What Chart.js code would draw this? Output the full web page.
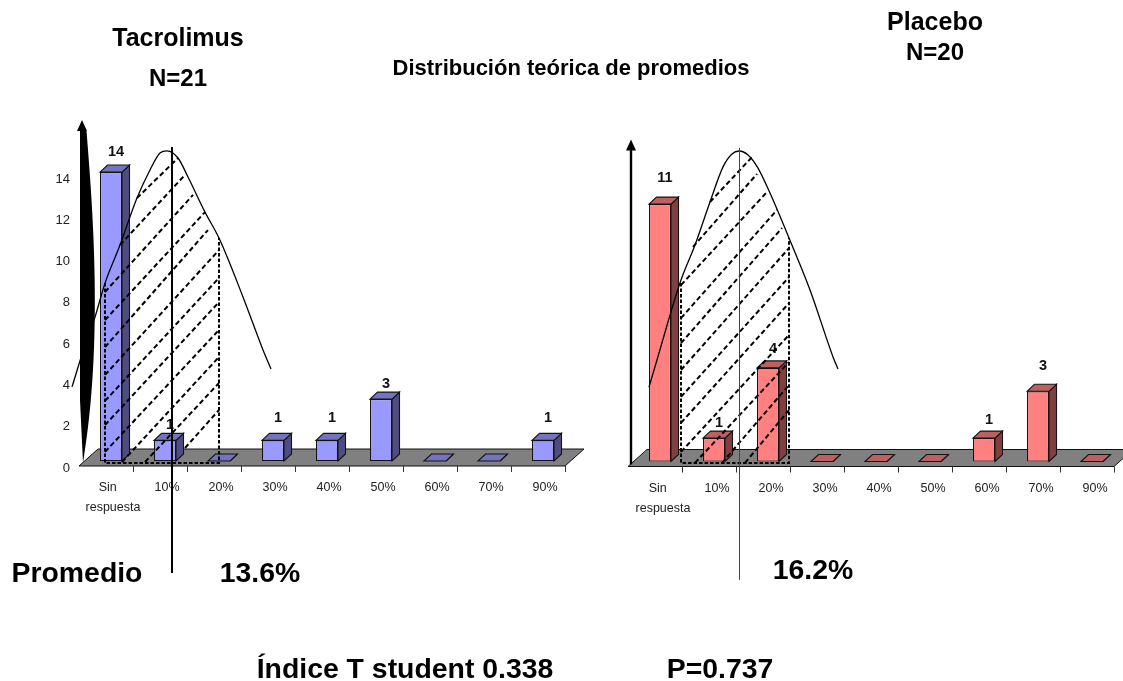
<!DOCTYPE html>
<html lang="es">
<head>
<meta charset="utf-8">
<title>Distribución teórica de promedios</title>
<script src="https://cdn.jsdelivr.net/npm/chart.js@4/dist/chart.umd.js"></script>
<style>
  html, body { margin: 0; padding: 0; background: #fff; }
  #stage { position: relative; width: 1123px; height: 681px; overflow: hidden; }
  canvas { position: absolute; left: 0; top: 0; }
  .cap { position: absolute; font-family: "Liberation Sans", Arial, sans-serif; font-weight: bold;
         color: #000; white-space: nowrap; transform: translate(-50%, -50%); line-height: 1; }
</style>
</head>
<body>
<div id="stage">
  <canvas id="tacrolimus" width="1123" height="681"></canvas>
  <canvas id="placebo" width="1123" height="681"></canvas>
  <div class="cap" style="left:178px;top:37px;font-size:25px">Tacrolimus</div>
  <div class="cap" style="left:178px;top:78px;font-size:24px">N=21</div>
  <div class="cap" style="left:935px;top:21px;font-size:25px">Placebo</div>
  <div class="cap" style="left:935px;top:52px;font-size:24px">N=20</div>
  <div class="cap" style="left:571px;top:68px;font-size:22px">Distribución teórica de promedios</div>
  <div class="cap" style="left:77px;top:572px;font-size:28.4px">Promedio</div>
  <div class="cap" style="left:260px;top:572px;font-size:28.4px">13.6%</div>
  <div class="cap" style="left:813px;top:569px;font-size:28.4px">16.2%</div>
  <div class="cap" style="left:405px;top:668px;font-size:28.4px">Índice T student 0.338</div>
  <div class="cap" style="left:720px;top:668px;font-size:28.4px">P=0.737</div>
</div>
<script>
// Response categories shared by both arms
const categories = [['Sin   ', 'respuesta'], '10%', '20%', '30%', '40%', '50%', '60%', '70%', '90%'];
const yTicks = [0, 2, 4, 6, 8, 10, 12, 14];

// Patients per category
const tacrolimusCounts = [14, 1, 0, 1, 1, 3, 0, 0, 1];
const placeboCounts = [11, 1, 4, 0, 0, 0, 1, 3, 0];

// Theoretical distribution of means, as [category position, height]
const tacrolimusCurve = [[-0.222,3.59],[0.019,5.62],[0.204,6.98],[0.389,8.62],[0.667,10.47],[0.981,12.74],
  [1.222,14.10],[1.407,14.92],[1.537,15.03],[1.741,14.68],[1.926,13.76],[2.241,12.06],[2.5,10.80],
  [2.944,7.95],[3.315,5.38],[3.463,4.46]];
const placeboCurve = [[0.296,3.18],[0.444,4.34],[0.870,7.63],[1.148,9.25],[1.426,11.09],[1.667,12.59],
  [1.833,13.14],[1.963,13.27],[2.130,13.10],[2.315,12.54],[2.537,11.47],[2.889,9.55],[3.278,7.33],
  [3.704,4.47],[3.796,3.95]];

// Dashed outline of the shaded area under each curve
const tacrolimusBand = [[0.389,8.62],[0.389,-0.10],[2.5,-0.10],[2.5,10.80]];
const placeboBand = [[0.889,7.63],[0.889,-0.06],[2.889,-0.06],[2.889,9.55]];

// Diagonal hatching, each entry [x1, y1, x2, y2]
const tacrolimusHatch = [[0.981,12.74,1.741,14.68],[0.667,10.47,1.87,13.86],[0.389,8.19,2.019,12.89],
  [0.389,6.83,2.241,12.06],[0.389,5.52,2.296,11.19],[0.389,4.17,2.5,10.22],[0.389,2.91,2.5,8.87],
  [0.389,1.74,2.5,7.70],[0.389,0.44,2.5,6.35],[0.704,-0.05,2.5,5.04],[1.13,-0.05,2.5,3.78],[1.87,0.63,2.5,2.47]];
const placeboHatch = [[1.426,11.09,2.204,13.01],[1.111,9.17,2.296,12.29],[0.889,7.54,2.463,11.47],
  [0.889,6.13,2.667,10.75],[0.889,5.06,2.759,9.98],[0.889,3.91,2.889,9.12],[0.889,2.76,2.889,7.88],
  [0.889,1.65,2.889,6.77],[0.889,0.41,2.889,5.41],[1.148,-0.06,2.889,4.25],[1.648,-0.06,2.889,3.27],
  [2.074,-0.06,2.889,2.20]];

// Mean marker: position and vertical extent
const tacrolimusMean = [1.63, 15.21, -5.43];
const placeboMean = [1.963, 13.4, -5.06];

const DEPTH_X = 7.5, DEPTH_Y = 7;

function box3d(ctx, el, top, side) {
  const { x, y, base, width } = el.getProps(['x', 'y', 'base', 'width'], true);
  const l = x - width / 2, r = x + width / 2;
  ctx.lineWidth = 1.1;
  ctx.strokeStyle = '#141414';
  ctx.beginPath();
  ctx.moveTo(r, y); ctx.lineTo(r + DEPTH_X, y - DEPTH_Y); ctx.lineTo(r + DEPTH_X, base - DEPTH_Y); ctx.lineTo(r, base);
  ctx.closePath(); ctx.fillStyle = side; ctx.fill(); ctx.stroke();
  ctx.beginPath();
  ctx.moveTo(l, y); ctx.lineTo(l + DEPTH_X, y - DEPTH_Y); ctx.lineTo(r + DEPTH_X, y - DEPTH_Y); ctx.lineTo(r, y);
  ctx.closePath(); ctx.fillStyle = top; ctx.fill(); ctx.stroke();
}

// Gray floor, axis ticks, value labels and the extruded faces behind the bars
function stagePlugin(cfg) {
  return {
    id: 'stage3d',
    beforeDatasetsDraw(chart) {
      const { ctx, chartArea: a, scales } = chart;
      const y0 = scales.y.getPixelForValue(0);
      const front = y0 + 5, back = y0 - 12, shift = 5;
      ctx.save();
      ctx.beginPath();
      ctx.moveTo(a.left - shift, front);
      ctx.lineTo(a.left - shift + 19, back);
      ctx.lineTo(a.right - shift + 19, back);
      ctx.lineTo(a.right - shift, front);
      ctx.closePath();
      ctx.fillStyle = '#808080';
      ctx.fill();
      ctx.strokeStyle = '#111';
      ctx.lineWidth = 1;
      ctx.stroke();
      categories.forEach((_, i) => {
        const tx = Math.round(scales.x.getPixelForValue(i) + 27 - shift) + 0.5;
        ctx.beginPath(); ctx.moveTo(tx, front); ctx.lineTo(tx, front + 6); ctx.strokeStyle = '#333'; ctx.stroke();
      });
      // value labels go under the bars so a low label can tuck behind its box
      ctx.fillStyle = '#111';
      ctx.font = 'bold 14.5px "Liberation Sans", Arial, sans-serif';
      ctx.textAlign = 'center';
      ctx.textBaseline = 'middle';
      chart.getDatasetMeta(0).data.forEach((el, i) => {
        const v = chart.data.datasets[0].data[i];
        if (v > 0) ctx.fillText(String(v), el.x + 5, el.y - DEPTH_Y - cfg.labelLift[i]);
      });
      chart.getDatasetMeta(0).data.forEach(el => box3d(ctx, el, cfg.top, cfg.side));
      ctx.restore();
    },
    afterDatasetsDraw(chart) {
      const { ctx, chartArea: a, scales } = chart;
      const X = u => scales.xc.getPixelForValue(u), Y = v => scales.y.getPixelForValue(v);
      ctx.save();
      ctx.strokeStyle = '#000';
      ctx.lineWidth = 2;
      // hatching and outline of the shaded area
      ctx.setLineDash([5, 3]);
      cfg.hatch.forEach(h => {
        ctx.beginPath(); ctx.moveTo(X(h[0]), Y(h[1])); ctx.lineTo(X(h[2]), Y(h[3])); ctx.stroke();
      });
      ctx.setLineDash([3.5, 2]);
      ctx.beginPath();
      cfg.band.forEach((p, i) => i ? ctx.lineTo(X(p[0]), Y(p[1])) : ctx.moveTo(X(p[0]), Y(p[1])));
      ctx.stroke();
      ctx.setLineDash([]);
      // mean marker, snapped to the pixel grid
      const mx = Math.round(X(cfg.mean[0])) + (cfg.meanWidth % 2 ? 0.5 : 0);
      ctx.strokeStyle = cfg.meanColor;
      ctx.lineWidth = cfg.meanWidth;
      ctx.beginPath();
      ctx.moveTo(mx, Y(cfg.mean[1]));
      ctx.lineTo(mx, Y(cfg.mean[2]));
      ctx.stroke();
      // vertical axis arrow
      cfg.drawAxis(ctx, a, Y(0));
      ctx.restore();
    }
  };
}

// Tacrolimus axis: a swollen arrow
function bulgedAxis(ctx, a, y0) {
  const l = a.left;
  ctx.fillStyle = '#000';
  ctx.beginPath();
  ctx.moveTo(l - 2, y0 - 341);
  ctx.lineTo(l + 3, y0 - 330);
  ctx.lineTo(l + 2.5, y0 - 330);
  ctx.bezierCurveTo(l + 8, y0 - 261, l + 20, y0 - 121, l - 1, y0 + 2);
  ctx.lineTo(l - 4, y0 - 61);
  ctx.lineTo(l - 4, y0 - 330);
  ctx.lineTo(l - 7, y0 - 330);
  ctx.closePath();
  ctx.fill();
}

// Placebo axis: a plain arrow
function plainAxis(ctx, a, y0) {
  const x = a.left - 2;
  ctx.strokeStyle = '#000';
  ctx.lineWidth = 2.4;
  ctx.beginPath(); ctx.moveTo(x, y0 + 3); ctx.lineTo(x, y0 - 312); ctx.stroke();
  ctx.fillStyle = '#000';
  ctx.beginPath();
  ctx.moveTo(x, y0 - 322); ctx.lineTo(x + 5, y0 - 311); ctx.lineTo(x - 5, y0 - 311);
  ctx.closePath(); ctx.fill();
}

function buildChart(id, o) {
  const tickFont = { family: '"Liberation Sans", Arial, sans-serif', size: 12.5, lineHeight: 1.6 };
  return new Chart(document.getElementById(id), {
    type: 'bar',
    data: {
      labels: categories,
      datasets: [
        { data: o.counts, backgroundColor: o.front, borderColor: '#141414', borderWidth: 1.1, grouped: false,
          barPercentage: 22 / 54, categoryPercentage: 1, borderSkipped: false, order: 2 },
        { type: 'line', xAxisID: 'xc', data: o.curve.map(p => ({ x: p[0], y: p[1] })), borderColor: '#000',
          borderWidth: 1.3, pointRadius: 0, cubicInterpolationMode: 'monotone', fill: false, clip: false, order: 1 }
      ]
    },
    plugins: [stagePlugin(o)],
    options: {
      responsive: false,
      animation: false,
      events: [],
      layout: { padding: { left: o.padLeft, right: o.padRight, top: o.padTop, bottom: 0 } },
      plugins: { legend: { display: false }, tooltip: { enabled: false } },
      scales: {
        x: {
          type: 'category',
          grid: { display: false, drawTicks: false },
          border: { display: false },
          afterFit: s => { s.height = 681 - o.bottom; },
          ticks: { font: tickFont, color: '#222', padding: 17, maxRotation: 0, autoSkip: false, labelOffset: o.labelShift }
        },
        xc: { type: 'linear', display: false, min: 0, max: 9, offset: false },
        y: {
          min: 0, max: o.yMax,
          display: o.showY,
          grid: { display: false, drawTicks: false },
          border: { display: false },
          afterFit: s => { s.width = o.padLeftAxis; },
          afterBuildTicks: s => { s.ticks = yTicks.map(value => ({ value })); },
          ticks: { font: { family: tickFont.family, size: 13 }, color: '#222', padding: 14, labelOffset: 7 }
        }
      }
    }
  });
}

buildChart('tacrolimus', {
  counts: tacrolimusCounts, curve: tacrolimusCurve, band: tacrolimusBand, hatch: tacrolimusHatch, mean: tacrolimusMean,
  front: '#9999ff', top: '#7373bf', side: '#4d4d80', meanColor: '#000', meanWidth: 2, drawAxis: bulgedAxis,
  showY: true, padLeft: 0, padLeftAxis: 84, padRight: 553, padTop: 130.76, bottom: 461, yMax: 16, labelShift: 2,
  labelLift: [13, 8, 0, 15, 15, 8, 0, 0, 15]
});
buildChart('placebo', {
  counts: placeboCounts, curve: placeboCurve, band: placeboBand, hatch: placeboHatch, mean: placeboMean,
  front: '#ff8080', top: '#bf6060', side: '#804040', meanColor: '#444', meanWidth: 1, drawAxis: plainAxis,
  showY: false, padLeft: 633, padLeftAxis: 0, padRight: 4, padTop: 133.9, bottom: 461.5, yMax: 14, labelShift: 3,
  labelLift: [19, 8, 12, 0, 0, 0, 11, 18, 0]
});
</script>
</body>
</html>
